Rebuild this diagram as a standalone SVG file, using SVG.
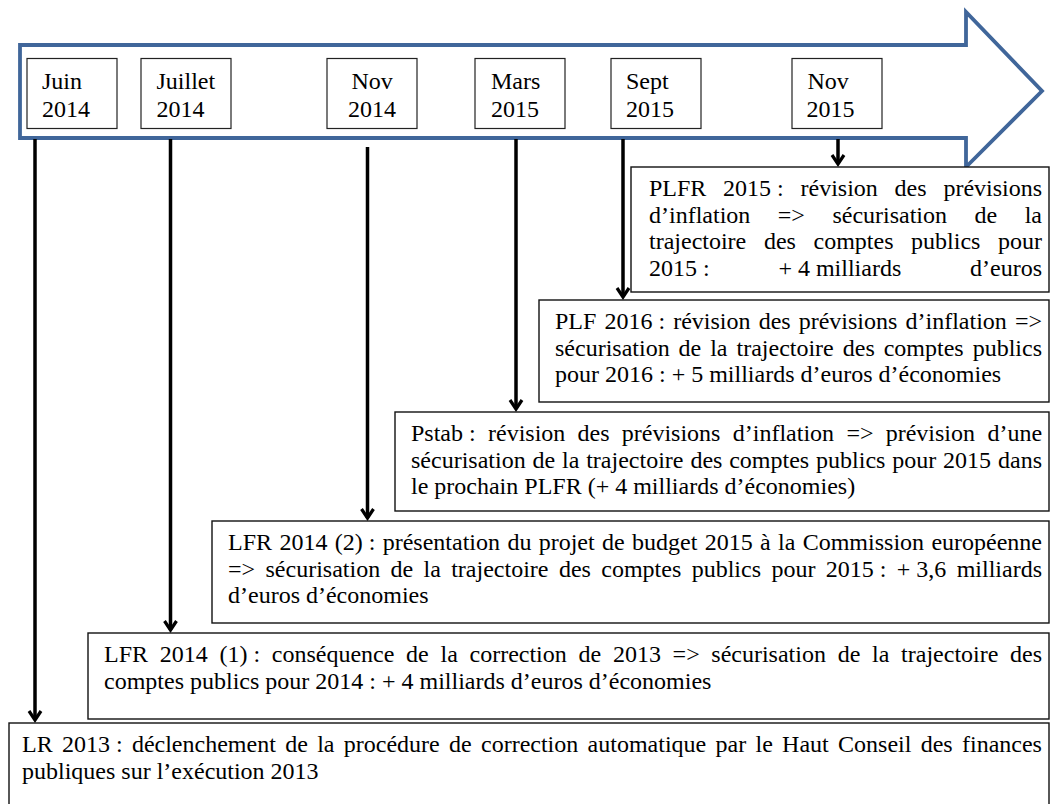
<svg xmlns="http://www.w3.org/2000/svg" width="1059" height="804" viewBox="0 0 1059 804">
<defs>
<style>
.t{font-family:"Liberation Serif","Times New Roman",serif;font-size:24px;fill:#000}
.d{font-family:"Liberation Serif","Times New Roman",serif;font-size:24px;fill:#000}
.box{fill:#fff;stroke:#111;stroke-width:1.4}
.dbox{fill:#fff;stroke:#222;stroke-width:1.2}
.conn{fill:none;stroke:#000;stroke-width:3.5;marker-end:url(#ah)}
</style>
<marker id="ah" markerUnits="userSpaceOnUse" orient="auto" refX="0" refY="0" markerWidth="20" markerHeight="20" overflow="visible">
<path d="M-9,-6 L0,0 L-9,6" fill="none" stroke="#000" stroke-width="3.2"/>
</marker>
</defs>
<rect width="1059" height="804" fill="#fff"/>
<g id="timeline">
<path d="M20,45 H966 V12 L1042,91 L966,167 V138 H20 Z" fill="#fff" stroke="#40669A" stroke-width="3.8"/>
</g>
<g id="d-juin"><rect class="dbox" x="27" y="58.5" width="90" height="70"/><text class="d" x="42" y="89">Juin</text><text class="d" x="42" y="117">2014</text></g>
<g id="d-juillet"><rect class="dbox" x="141" y="58.5" width="90" height="70"/><text class="d" x="156.5" y="89">Juillet</text><text class="d" x="156.5" y="117">2014</text></g>
<g id="d-nov2014"><rect class="dbox" x="327" y="58.5" width="90" height="70"/><text class="d" x="351.5" y="89">Nov</text><text class="d" x="348" y="117">2014</text></g>
<g id="d-mars"><rect class="dbox" x="475" y="58.5" width="90" height="70"/><text class="d" x="491" y="89">Mars</text><text class="d" x="491" y="117">2015</text></g>
<g id="d-sept"><rect class="dbox" x="611" y="58.5" width="90" height="70"/><text class="d" x="626" y="89">Sept</text><text class="d" x="626" y="117">2015</text></g>
<g id="d-nov2015"><rect class="dbox" x="792" y="58.5" width="90" height="70"/><text class="d" x="807.5" y="89">Nov</text><text class="d" x="806.5" y="117">2015</text></g>
<g id="connectors">
<path class="conn" d="M35,139 V720"/>
<path class="conn" d="M170.5,139 V630"/>
<path class="conn" d="M367.5,147 V518"/>
<path class="conn" d="M516,139 V409"/>
<path class="conn" d="M623,139 V297"/>
<path class="conn" d="M838,139 V164"/>
</g>
<g id="plfr2015">
<rect class="box" x="631" y="167" width="418" height="125"/>
<text class="t" y="196"><tspan x="649">PLFR</tspan><tspan x="723.1">2015&#160;:</tspan><tspan x="800.5">révision</tspan><tspan x="894.6">des</tspan><tspan x="943.4">prévisions</tspan></text>
<text class="t" y="222.5"><tspan x="649">d’inflation</tspan><tspan x="777.8">=&gt;</tspan><tspan x="832.4">sécurisation</tspan><tspan x="974.5">de</tspan><tspan x="1024.7">la</tspan></text>
<text class="t" y="249"><tspan x="649">trajectoire</tspan><tspan x="763.9">des</tspan><tspan x="813.5">comptes</tspan><tspan x="911.1">publics</tspan><tspan x="998">pour</tspan></text>
<text class="t" y="275.5"><tspan x="649">2015&#160;:</tspan><tspan x="778.4">+&#160;4&#160;milliards</tspan><tspan x="970">d’euros</tspan></text>
</g>
<g id="plf2016">
<rect class="box" x="539" y="300" width="510" height="102"/>
<text class="t" y="329"><tspan x="555">PLF</tspan><tspan x="604.5">2016&#160;:</tspan><tspan x="673.2">révision</tspan><tspan x="758.7">des</tspan><tspan x="798.7">prévisions</tspan><tspan x="905.5">d’inflation</tspan><tspan x="1014.9">=&gt;</tspan></text>
<text class="t" y="355.5"><tspan x="555">sécurisation</tspan><tspan x="678.6">de</tspan><tspan x="710.2">la</tspan><tspan x="736.5">trajectoire</tspan><tspan x="842.8">des</tspan><tspan x="883.7">comptes</tspan><tspan x="972.7">publics</tspan></text>
<text class="t" x="555" y="382">pour 2016 : + 5 milliards d’euros d’économies</text>
</g>
<g id="pstab">
<rect class="box" x="395" y="412" width="654" height="99"/>
<text class="t" y="441"><tspan x="411">Pstab&#160;:</tspan><tspan x="488">révision</tspan><tspan x="577.6">des</tspan><tspan x="621.8">prévisions</tspan><tspan x="732.8">d’inflation</tspan><tspan x="846.4">=&gt;</tspan><tspan x="885.7">prévision</tspan><tspan x="987.4">d’une</tspan></text>
<text class="t" y="467.5"><tspan x="411">sécurisation</tspan><tspan x="532.5">de</tspan><tspan x="562">la</tspan><tspan x="586.2">trajectoire</tspan><tspan x="690.4">des</tspan><tspan x="729.2">comptes</tspan><tspan x="816.1">publics</tspan><tspan x="892.3">pour</tspan><tspan x="943.1">2015</tspan><tspan x="998">dans</tspan></text>
<text class="t" x="411" y="494">le prochain PLFR (+ 4 milliards d’économies)</text>
</g>
<g id="lfr2014-2">
<rect class="box" x="212" y="521" width="837" height="102"/>
<text class="t" y="550"><tspan x="228">LFR</tspan><tspan x="279.4">2014</tspan><tspan x="334.7">(2)&#160;:</tspan><tspan x="382.7">présentation</tspan><tspan x="507.4">du</tspan><tspan x="538.7">projet</tspan><tspan x="602">de</tspan><tspan x="632">budget</tspan><tspan x="704.7">2015</tspan><tspan x="760">à</tspan><tspan x="778">la</tspan><tspan x="802.7">Commission</tspan><tspan x="931.4">européenne</tspan></text>
<text class="t" y="576.5"><tspan x="228">=&gt;</tspan><tspan x="265.5">sécurisation</tspan><tspan x="390.5">de</tspan><tspan x="423.5">la</tspan><tspan x="451.2">trajectoire</tspan><tspan x="558.9">des</tspan><tspan x="601.3">comptes</tspan><tspan x="691.7">publics</tspan><tspan x="771.4">pour</tspan><tspan x="825.7">2015&#160;:</tspan><tspan x="896.8">+&#160;3,6</tspan><tspan x="956.7">milliards</tspan></text>
<text class="t" x="228" y="603">d’euros d’économies</text>
</g>
<g id="lfr2014-1">
<rect class="box" x="88" y="633" width="961" height="86"/>
<text class="t" y="662"><tspan x="104">LFR</tspan><tspan x="159.7">2014</tspan><tspan x="219.4">(1)&#160;:</tspan><tspan x="271.8">conséquence</tspan><tspan x="406.1">de</tspan><tspan x="440.5">la</tspan><tspan x="469.5">correction</tspan><tspan x="578.5">de</tspan><tspan x="612.9">2013</tspan><tspan x="672.6">=&gt;</tspan><tspan x="711.3">sécurisation</tspan><tspan x="837.7">de</tspan><tspan x="872">la</tspan><tspan x="901.1">trajectoire</tspan><tspan x="1010.1">des</tspan></text>
<text class="t" x="104" y="688.5">comptes publics pour 2014 : + 4 milliards d’euros d’économies</text>
</g>
<g id="lr2013">
<rect class="box" x="9" y="723" width="1040" height="90"/>
<text class="t" y="752"><tspan x="22">LR</tspan><tspan x="62">2013&#160;:</tspan><tspan x="131.9">déclenchement</tspan><tspan x="285.2">de</tspan><tspan x="317.2">la</tspan><tspan x="343.8">procédure</tspan><tspan x="449">de</tspan><tspan x="481">correction</tspan><tspan x="587.6">automatique</tspan><tspan x="715.6">par</tspan><tspan x="755.5">le</tspan><tspan x="782.1">Haut</tspan><tspan x="838.1">Conseil</tspan><tspan x="920.7">des</tspan><tspan x="962">finances</tspan></text>
<text class="t" x="22" y="778.5">publiques sur l’exécution 2013</text>
</g>
</svg>
